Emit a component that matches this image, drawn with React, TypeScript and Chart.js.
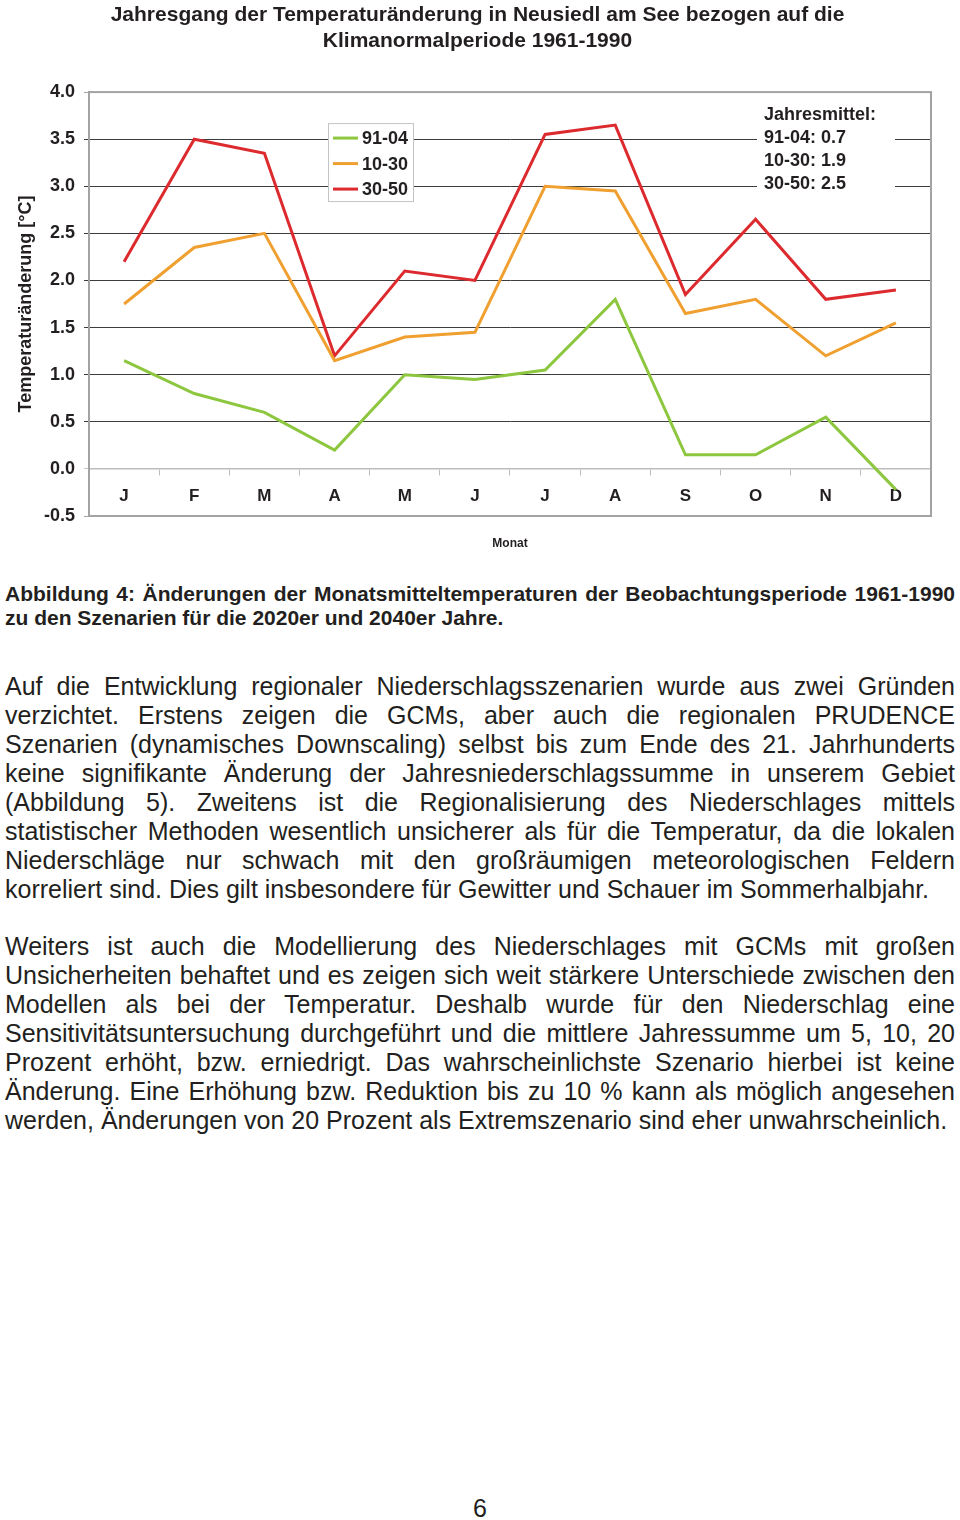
import React, { useEffect, useRef } from 'react';
import { Chart, registerables } from 'chart.js';

Chart.register(...registerables);

const FONT = '"Liberation Sans", Arial, Helvetica, sans-serif';
const TEXT = '#231f20';

const titleLines = [
  'Jahresgang der Temperaturänderung in Neusiedl am See bezogen auf die',
  'Klimanormalperiode 1961-1990',
];
const months = ['J', 'F', 'M', 'A', 'M', 'J', 'J', 'A', 'S', 'O', 'N', 'D'];
const seriesLabels = ['91-04', '10-30', '30-50'];
const seriesColors = ['#8dc63f', '#f0a030', '#dc2a2e'];
const values9104 = [1.15, 0.8, 0.6, 0.2, 1.0, 0.95, 1.05, 1.8, 0.15, 0.15, 0.55, -0.22];
const values1030 = [1.75, 2.35, 2.5, 1.15, 1.4, 1.45, 3.0, 2.95, 1.65, 1.8, 1.2, 1.55];
const values3050 = [2.2, 3.5, 3.35, 1.2, 2.1, 2.0, 3.55, 3.65, 1.85, 2.65, 1.8, 1.9];
const annualMeanTitle = 'Jahresmittel:';
const annualMeans = [0.7, 1.9, 2.5];
const yMin = -0.5;
const yMax = 4.0;
const yStep = 0.5;
const yTitle = 'Temperaturänderung [°C]';
const xTitle = 'Monat';

const captionLines = [
  'Abbildung 4: Änderungen der Monatsmitteltemperaturen der Beobachtungsperiode 1961-1990',
  'zu den Szenarien für die 2020er und 2040er Jahre.',
];
const para1 = [
  'Auf die Entwicklung regionaler Niederschlagsszenarien wurde aus zwei Gründen',
  'verzichtet. Erstens zeigen die GCMs, aber auch die regionalen PRUDENCE',
  'Szenarien (dynamisches Downscaling) selbst bis zum Ende des 21. Jahrhunderts',
  'keine signifikante Änderung der Jahresniederschlagssumme in unserem Gebiet',
  '(Abbildung 5). Zweitens ist die Regionalisierung des Niederschlages mittels',
  'statistischer Methoden wesentlich unsicherer als für die Temperatur, da die lokalen',
  'Niederschläge nur schwach mit den großräumigen meteorologischen Feldern',
  'korreliert sind. Dies gilt insbesondere für Gewitter und Schauer im Sommerhalbjahr.',
];
const para2 = [
  'Weiters ist auch die Modellierung des Niederschlages mit GCMs mit großen',
  'Unsicherheiten behaftet und es zeigen sich weit stärkere Unterschiede zwischen den',
  'Modellen als bei der Temperatur. Deshalb wurde für den Niederschlag eine',
  'Sensitivitätsuntersuchung durchgeführt und die mittlere Jahressumme um 5, 10, 20',
  'Prozent erhöht, bzw. erniedrigt. Das wahrscheinlichste Szenario hierbei ist keine',
  'Änderung. Eine Erhöhung bzw. Reduktion bis zu 10 % kann als möglich angesehen',
  'werden, Änderungen von 20 Prozent als Extremszenario sind eher unwahrscheinlich.',
];
const pageNumber = '6';

const overlayPlugin = {
  id: 'overlayBoxes',
  beforeDatasetsDraw(chart: any) {
    const { ctx, chartArea: a } = chart;
    ctx.save();
    // Jahresmittel box (white, hides grid lines)
    ctx.fillStyle = '#ffffff';
    ctx.fillRect(a.left + 668, a.top + 8, 138, 96);
    ctx.fillStyle = TEXT;
    ctx.font = `bold 18px ${FONT}`;
    ctx.textBaseline = 'middle';
    ctx.textAlign = 'left';
    const lines = [annualMeanTitle, ...seriesLabels.map((l, i) => `${l}: ${annualMeans[i].toFixed(1)}`)];
    lines.forEach((t, i) => ctx.fillText(t, a.left + 675, a.top + 23 + i * 23));

    // Legend box
    const lx = a.left + 239;
    const ly = a.top + 31;
    ctx.fillStyle = '#ffffff';
    ctx.fillRect(lx, ly, 85, 78);
    ctx.strokeStyle = '#c4c4c4';
    ctx.lineWidth = 1;
    ctx.strokeRect(lx + 0.5, ly + 0.5, 85, 78);
    chart.data.datasets.forEach((ds: any, i: number) => {
      const yy = ly + 15 + i * 25.5;
      ctx.strokeStyle = ds.borderColor;
      ctx.lineWidth = 3;
      ctx.beginPath();
      ctx.moveTo(lx + 5, yy);
      ctx.lineTo(lx + 30, yy);
      ctx.stroke();
      ctx.fillStyle = TEXT;
      ctx.fillText(ds.label, lx + 34, yy + 1);
    });
    ctx.restore();
  },
  afterDraw(chart: any) {
    const { ctx, chartArea: a } = chart;
    ctx.save();
    ctx.strokeStyle = '#a3a3a3';
    ctx.lineWidth = 2;
    ctx.strokeRect(a.left, a.top, a.right - a.left, a.bottom - a.top);
    ctx.restore();
  },
};

function ChartBlock() {
  const ref = useRef<HTMLCanvasElement | null>(null);
  useEffect(() => {
    if (!ref.current) return;
    Chart.defaults.font.family = FONT;
    const chart = new Chart(ref.current, {
      type: 'line',
      data: {
        labels: months,
        datasets: [values9104, values1030, values3050].map((d, i) => ({
          label: seriesLabels[i],
          data: d,
          borderColor: seriesColors[i],
          backgroundColor: seriesColors[i],
          borderWidth: 3,
          pointRadius: 0,
          tension: 0,
          fill: false,
        })),
      },
      options: {
        responsive: false,
        animation: false,
        layout: { padding: { left: 24, right: 29, top: 0, bottom: 54 } },
        plugins: {
          legend: { display: false },
          tooltip: { enabled: false },
          title: {
            display: true,
            text: titleLines,
            color: TEXT,
            font: { size: 21, weight: 'bold', family: FONT, lineHeight: 1.24 },
            padding: { top: 2, bottom: 38 },
          },
        },
        scales: {
          x: {
            type: 'category',
            position: { y: 0 } as any,
            offset: true,
            grid: {
              offset: true,
              drawOnChartArea: false,
              drawTicks: true,
              tickLength: 6,
              color: '#bdbdbd',
            },
            border: { display: true, color: '#bdbdbd', width: 1.5 },
            ticks: {
              color: TEXT,
              font: { size: 17, weight: 'bold', family: FONT },
              padding: 11,
              maxRotation: 0,
              autoSkip: false,
            },
            title: {
              display: true,
              text: xTitle,
              color: TEXT,
              font: { size: 12, weight: 'bold', family: FONT },
              padding: { top: 19, bottom: 0 },
            },
          },
          y: {
            min: yMin,
            max: yMax,
            ticks: {
              stepSize: yStep,
              color: TEXT,
              font: { size: 18, weight: 'bold', family: FONT },
              padding: 9,
              callback: (v: any) => Number(v).toFixed(1),
            },
            grid: {
              drawTicks: true,
              tickLength: 5,
              lineWidth: 1,
              color: (c: any) => {
                const v = c.tick ? c.tick.value : null;
                if (v === yMin || v === yMax) return '#a3a3a3';
                if (v === 0) return '#c4c4c4';
                return '#3c3c3c';
              },
            },
            border: { display: true, color: '#a3a3a3', width: 2 },
            title: {
              display: true,
              text: yTitle,
              color: TEXT,
              font: { size: 18, weight: 'bold', family: FONT },
              padding: { top: -9, bottom: 0 },
            },
            afterFit: (s: any) => {
              s.width = 65;
            },
          },
        },
      },
      plugins: [overlayPlugin],
    } as any);
    return () => chart.destroy();
  }, []);
  return <canvas ref={ref} width={960} height={570} style={{ position: 'absolute', left: 0, top: 0 }} />;
}

const lineStyle = (justify: boolean): React.CSSProperties => ({
  textAlign: justify ? 'justify' : 'left',
  textAlignLast: justify ? 'justify' : 'left',
  whiteSpace: 'nowrap',
});

export default function App() {
  return (
    <div
      style={{
        position: 'absolute',
        left: 0,
        top: 0,
        width: 960,
        height: 1520,
        background: '#ffffff',
        overflow: 'hidden',
        fontFamily: FONT,
        color: TEXT,
      }}
    >
      <ChartBlock />
      <div style={{ position: 'absolute', left: 5, top: 582, width: 950, fontSize: 21, fontWeight: 'bold', lineHeight: '24px' }}>
        {captionLines.map((l, i) => (
          <div key={i} style={lineStyle(i < captionLines.length - 1)}>{l}</div>
        ))}
      </div>
      <div style={{ position: 'absolute', left: 5, top: 672, width: 950, fontSize: 25, lineHeight: '29px' }}>
        {para1.map((l, i) => (
          <div key={i} style={lineStyle(i < para1.length - 1)}>{l}</div>
        ))}
      </div>
      <div style={{ position: 'absolute', left: 5, top: 932, width: 950, fontSize: 25, lineHeight: '29px' }}>
        {para2.map((l, i) => (
          <div key={i} style={lineStyle(i < para2.length - 1)}>{l}</div>
        ))}
      </div>
      <div style={{ position: 'absolute', left: 0, top: 1494, width: 960, textAlign: 'center', fontSize: 25, lineHeight: '29px' }}>
        {pageNumber}
      </div>
    </div>
  );
}
